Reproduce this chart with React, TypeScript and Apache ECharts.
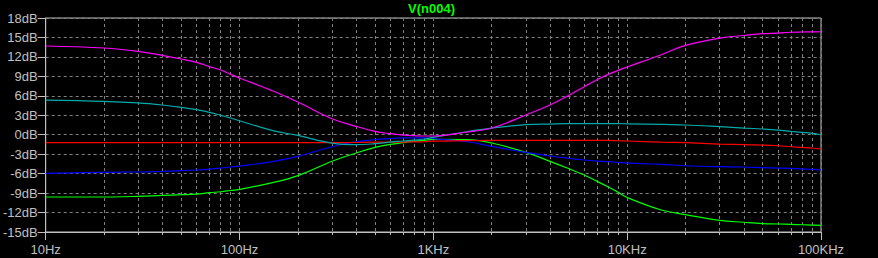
import React, { useEffect, useRef } from "react";
import * as echarts from "echarts";

const freqs = [
  10, 20, 30, 40, 50, 60, 70, 80, 90,
  100, 150, 200, 300, 400, 500, 600, 700, 800, 900,
  1000, 1500, 2000, 3000, 4000, 5000, 6000, 7000, 8000, 9000,
  10000, 15000, 20000, 30000, 40000, 50000, 60000, 70000, 80000, 90000,
  100000,
];

const magenta = [
  13.68, 13.37, 12.86, 12.24, 11.68, 11.16, 10.5, 9.98, 9.3,
  8.75, 6.7, 5.04, 2.47, 1.29, 0.52, 0.16, -0.05, -0.15, -0.2,
  -0.2, 0.42, 1.03, 3.04, 4.58, 6.07, 7.41, 8.49, 9.31, 9.93,
  10.44, 12.34, 13.78, 14.9, 15.3, 15.58, 15.68, 15.8, 15.84, 15.86,
  15.88,
];

const cyan = [
  5.35, 5.15, 4.9, 4.58, 4.22, 3.86, 3.45, 2.99, 2.58,
  2.16, 0.6, -0.1, -1.3, -1.54, -1.38, -1.13, -0.97, -0.82, -0.66,
  -0.4, 0.5, 1.03, 1.55, 1.65, 1.7, 1.7, 1.7, 1.7, 1.7,
  1.68, 1.6, 1.5, 1.24, 1.03, 0.88, 0.72, 0.52, 0.36, 0.21,
  0.0,
];

const red = [
  -1.23, -1.23, -1.23, -1.23, -1.23, -1.23, -1.23, -1.23, -1.23,
  -1.23, -1.23, -1.23, -1.23, -1.2, -1.13, -1.13, -1.13, -1.1, -1.08,
  -1.0, -0.9, -0.87, -0.87, -0.87, -0.87, -0.87, -0.87, -0.87, -0.93,
  -0.97, -1.13, -1.23, -1.44, -1.54, -1.6, -1.7, -1.85, -1.95, -2.05,
  -2.2,
];

const blue = [
  -5.96, -5.8, -5.75, -5.65, -5.55, -5.44, -5.29, -5.14, -4.98,
  -4.85, -4.1, -3.34, -1.85, -1.08, -0.74, -0.58, -0.5, -0.48, -0.5,
  -0.6, -1.08, -1.8, -2.72, -3.28, -3.64, -3.9, -4.06, -4.16, -4.26,
  -4.37, -4.57, -4.78, -4.93, -4.98, -5.08, -5.14, -5.19, -5.29, -5.34,
  -5.44,
];

const green = [
  -9.6, -9.6, -9.5, -9.35, -9.25, -9.15, -8.94, -8.79, -8.6,
  -8.43, -7.35, -6.3, -4.1, -2.82, -1.95, -1.5, -1.23, -1.0, -0.85,
  -0.72, -0.75, -1.28, -2.72, -4.1, -5.24, -6.21, -7.19, -8.07, -8.89,
  -9.68, -11.6, -12.33, -13.2, -13.5, -13.7, -13.77, -13.83, -13.88, -13.93,
  -13.98,
];

const decadeTicks = [10, 100, 1000, 10000, 100000];
const decadeLabels = ["10Hz", "100Hz", "1KHz", "10KHz", "100KHz"];
const minorTicks = [
  10, 20, 30, 40, 50, 60, 70, 80, 90,
  100, 200, 300, 400, 500, 600, 700, 800, 900,
  1000, 2000, 3000, 4000, 5000, 6000, 7000, 8000, 9000,
  10000, 20000, 30000, 40000, 50000, 60000, 70000, 80000, 90000,
  100000,
];

const titleText = "V(n004)";

const FONT = "'Liberation Sans', Arial, sans-serif";
const AXIS_COLOR = "#c0c0c0";
const GRID_COLOR = "#808080";

export default function App() {
  const ref = useRef<HTMLDivElement>(null);

  useEffect(() => {
    if (!ref.current) return;
    const chart = echarts.init(ref.current, undefined, { renderer: "svg" });

    const mk = (name: string, vals: number[], color: string) => ({
      name,
      type: "line",
      data: freqs.map((f, i) => [f, vals[i]]),
      showSymbol: false,
      symbol: "none",
      smooth: 0.4,
      lineStyle: { width: 1.2, color },
      itemStyle: { color },
    });

    chart.setOption({
      animation: false,
      backgroundColor: "#000000",
      textStyle: { fontFamily: FONT },
      title: {
        text: titleText,
        left: 408,
        top: 2,
        padding: 0,
        textStyle: {
          color: "#00ff00",
          fontSize: 13,
          fontWeight: "bold",
          fontFamily: FONT,
        },
      },
      grid: {
        left: 43,
        right: 57,
        top: 18,
        bottom: 26,
        show: true,
        borderColor: AXIS_COLOR,
        borderWidth: 1,
        backgroundColor: "transparent",
      },
      xAxis: [
        {
          type: "log",
          logBase: 10,
          min: 10,
          max: 100000,
          position: "bottom",
          axisLine: {
            show: true,
            onZero: false,
            lineStyle: { color: AXIS_COLOR, width: 1 },
          },
          axisTick: {
            show: true,
            length: 3,
            customValues: minorTicks,
            lineStyle: { color: AXIS_COLOR },
          },
          minorTick: { show: false },
          splitLine: {
            show: true,
            lineStyle: { color: GRID_COLOR, type: [3, 3], width: 1 },
          },
          axisLabel: {
            customValues: decadeTicks,
            color: AXIS_COLOR,
            fontSize: 13,
            fontFamily: FONT,
            margin: 11,
            formatter: (v: number) => {
              const i = decadeTicks.findIndex((d) => Math.abs(d - v) / d < 1e-6);
              return i >= 0 ? decadeLabels[i] : "";
            },
          },
        },
        {
          type: "log",
          logBase: 10,
          min: 10,
          max: 100000,
          position: "bottom",
          axisLine: { show: false, onZero: false },
          axisTick: {
            show: true,
            length: 8,
            customValues: decadeTicks,
            lineStyle: { color: AXIS_COLOR },
          },
          axisLabel: { show: false },
          splitLine: { show: false },
        },
      ],
      yAxis: {
        type: "value",
        min: -15,
        max: 18,
        interval: 3,
        axisLine: {
          show: true,
          onZero: false,
          lineStyle: { color: AXIS_COLOR, width: 1 },
        },
        axisTick: { show: true, length: 8, lineStyle: { color: AXIS_COLOR } },
        splitLine: {
          show: true,
          lineStyle: { color: GRID_COLOR, type: [3, 3], width: 1 },
        },
        axisLabel: {
          color: AXIS_COLOR,
          fontSize: 13,
          fontFamily: FONT,
          margin: 8,
          formatter: (v: number) => `${v}dB`,
        },
      },
      series: [
        mk("green", green, "#00ff00"),
        mk("blue", blue, "#0000ff"),
        mk("red", red, "#ff0000"),
        mk("cyan", cyan, "#00aaaa"),
        mk("magenta", magenta, "#ff00ff"),
      ],
    });

    return () => chart.dispose();
  }, []);

  return (
    <div
      ref={ref}
      style={{ position: "fixed", left: 0, top: 0, width: 878, height: 258 }}
    />
  );
}
